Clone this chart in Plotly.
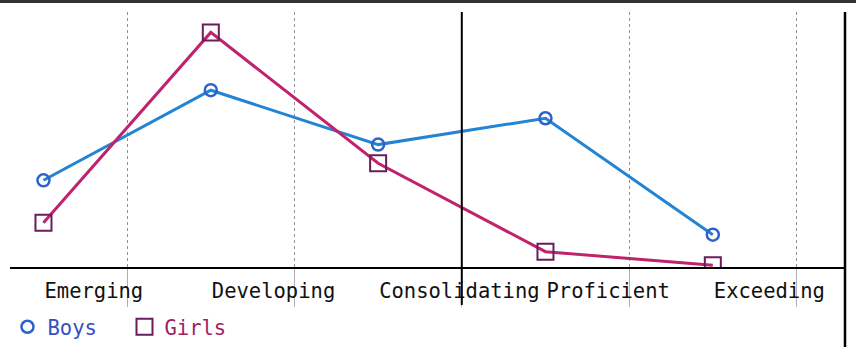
import plotly.graph_objects as go

categories = ["Emerging", "Developing", "Consolidating", "Proficient", "Exceeding"]
boys = [10.2, 20.8, 14.4, 17.5, 3.8]
girls = [5.2, 27.6, 12.2, 1.8, 0.2]

FONT = "DejaVu Sans Mono"
BOYS_LINE = "#2384d4"
BOYS_MARK = "#2d62cc"
GIRLS_LINE = "#c0236c"
GIRLS_MARK = "#6a1c5c"

xs = list(range(len(categories)))
bounds = [i + 0.5 for i in xs]

fig = go.Figure()
fig.add_trace(go.Scatter(
    x=xs, y=boys, mode="lines+markers", showlegend=False,
    line=dict(color=BOYS_LINE, width=3),
    marker=dict(symbol="circle-open", size=12, color=BOYS_MARK, line=dict(width=2.5)),
))
fig.add_trace(go.Scatter(
    x=xs, y=girls, mode="lines+markers", showlegend=False,
    line=dict(color=GIRLS_LINE, width=3),
    marker=dict(symbol="square-open", size=16, color=GIRLS_MARK, line=dict(width=2)),
))
# legend entries (markers only)
fig.add_trace(go.Scatter(
    x=[None], y=[None], mode="markers",
    name="<span style='color:#3550c0'>Boys</span>",
    marker=dict(symbol="circle-open", size=12, color=BOYS_MARK, line=dict(width=2.5)),
))
fig.add_trace(go.Scatter(
    x=[None], y=[None], mode="markers",
    name="<span style='color:#a01e5e'>Girls</span>",
    marker=dict(symbol="square-open", size=16, color=GIRLS_MARK, line=dict(width=2)),
))

mid = (len(categories) - 1) / 2 + 0.5
fig.update_layout(
    width=856, height=347,
    margin=dict(l=10, r=11, t=12, b=80, autoexpand=False),
    paper_bgcolor="white", plot_bgcolor="white",
    font=dict(family=FONT, size=20.5, color="#111111"),
    xaxis=dict(
        range=[-0.2, 4.79], tickmode="array", tickvals=xs, ticktext=categories,
        ticklabelposition="outside right", ticks="", showgrid=False,
        ticklabelstandoff=4, automargin=False,
        zeroline=False, showline=True, linecolor="black", linewidth=2,
        tickfont=dict(family=FONT, size=20.5, color="#111111"),
        minor=dict(tickmode="array", tickvals=bounds, showgrid=True,
                   gridcolor="#8d8d9c", griddash="dot", gridwidth=1,
                   ticks="outside", ticklen=38, tickcolor="#b0b0bc", tickwidth=1),
    ),
    yaxis=dict(range=[0, 30], visible=False, showgrid=False, zeroline=False, automargin=False),
    legend=dict(orientation="h", x=-0.003, xanchor="left", y=-0.235, yanchor="middle",
                font=dict(family=FONT, size=20.5), itemwidth=30, entrywidth=72,
                bgcolor="rgba(0,0,0,0)"),
    shapes=[
        dict(type="line", xref="x", yref="paper", x0=mid, x1=mid, y0=-0.149, y1=1,
             line=dict(color="black", width=2)),
        dict(type="line", xref="paper", yref="paper", x0=1, x1=1, y0=-0.32, y1=1,
             line=dict(color="black", width=2.5)),
        dict(type="rect", xref="paper", yref="paper", x0=-0.02, x1=1.02, y0=1.035, y1=1.06,
             line=dict(width=0), fillcolor="#333333"),
    ],
)

fig.write_html("out.html", config={"displayModeBar": False},
               post_script="document.body.style.margin='0';")
